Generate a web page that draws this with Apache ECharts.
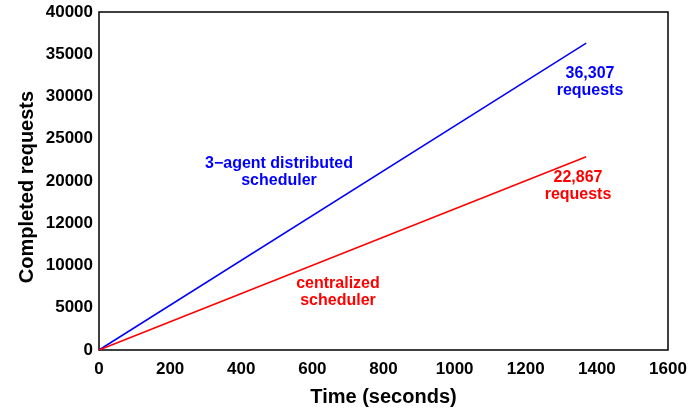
<!DOCTYPE html>
<html><head><meta charset="utf-8">
<script src="https://cdn.jsdelivr.net/npm/echarts@6/dist/echarts.min.js"></script>
<style>html,body{margin:0;padding:0;background:#fff}#c{width:690px;height:408px}</style>
</head><body><div id="c"></div>
<script>
const distributedX = [0, 1370];
const distributedY = [0, 36307];
const centralizedX = [0, 1370];
const centralizedY = [0, 22867];
const yTickValues = [0, 5000, 10000, 15000, 20000, 25000, 30000, 35000, 40000];
const yTickLabels = ["0", "5000", "10000", "12000", "20000", "25000", "30000", "35000", "40000"];
const xTickLabels = ["0", "200", "400", "600", "800", "1000", "1200", "1400", "1600"];

const F = 'Liberation Sans, Arial, Helvetica, sans-serif';
const chart = echarts.init(document.getElementById('c'));
chart.setOption({
  animation: false,
  grid: {left: 99, right: 22, top: 12, bottom: 58, show: true, borderColor: '#000', borderWidth: 1.5,
    containLabel: false, outerBoundsMode: 'none'},
  xAxis: {
    type: 'value', min: 0, max: 1600, interval: 200,
    name: 'Time (seconds)', nameLocation: 'middle', nameGap: 37,
    nameTextStyle: {fontFamily: F, fontWeight: 'bold', fontSize: 20, color: '#000'},
    axisLine: {show: false}, axisTick: {show: false}, splitLine: {show: false},
    axisLabel: {fontFamily: F, fontWeight: 'bold', fontSize: 17, color: '#000', margin: 11,
      formatter: v => xTickLabels[Math.round(v / 200)]}
  },
  yAxis: {
    type: 'value', min: 0, max: 40000, interval: 5000,
    name: 'Completed requests', nameLocation: 'middle', nameGap: 62, nameMoveOverlap: false,
    nameTextStyle: {fontFamily: F, fontWeight: 'bold', fontSize: 20, color: '#000', padding: [0, 12, 0, 0]},
    axisLine: {show: false}, axisTick: {show: false}, splitLine: {show: false},
    axisLabel: {fontFamily: F, fontWeight: 'bold', fontSize: 17, color: '#000', margin: 6,
      formatter: v => yTickLabels[yTickValues.indexOf(v)]}
  },
  series: [
    {type: 'line', data: distributedX.map((x, i) => [x, distributedY[i]]), symbol: 'none',
      lineStyle: {color: '#0000ff', width: 1.5}},
    {type: 'line', data: centralizedX.map((x, i) => [x, centralizedY[i]]), symbol: 'none',
      lineStyle: {color: '#ff0000', width: 1.5}}
  ]
});
const ann = [
  {t: '3\u2212agent distributed\nscheduler', c: '#0000ff', x: 279, y: 172},
  {t: '36,307\nrequests', c: '#0000ff', x: 590, y: 82},
  {t: '22,867\nrequests', c: '#ff0000', x: 578, y: 186},
  {t: 'centralized\nscheduler', c: '#ff0000', x: 338, y: 292}
];
chart.setOption({graphic: ann.map((a, i) => ({
  type: 'text', id: 'a' + i, x: a.x, y: a.y,
  style: {text: a.t, fill: a.c, font: 'bold 16px ' + F, align: 'center', verticalAlign: 'middle', lineHeight: 17}
}))});
</script></body></html>
